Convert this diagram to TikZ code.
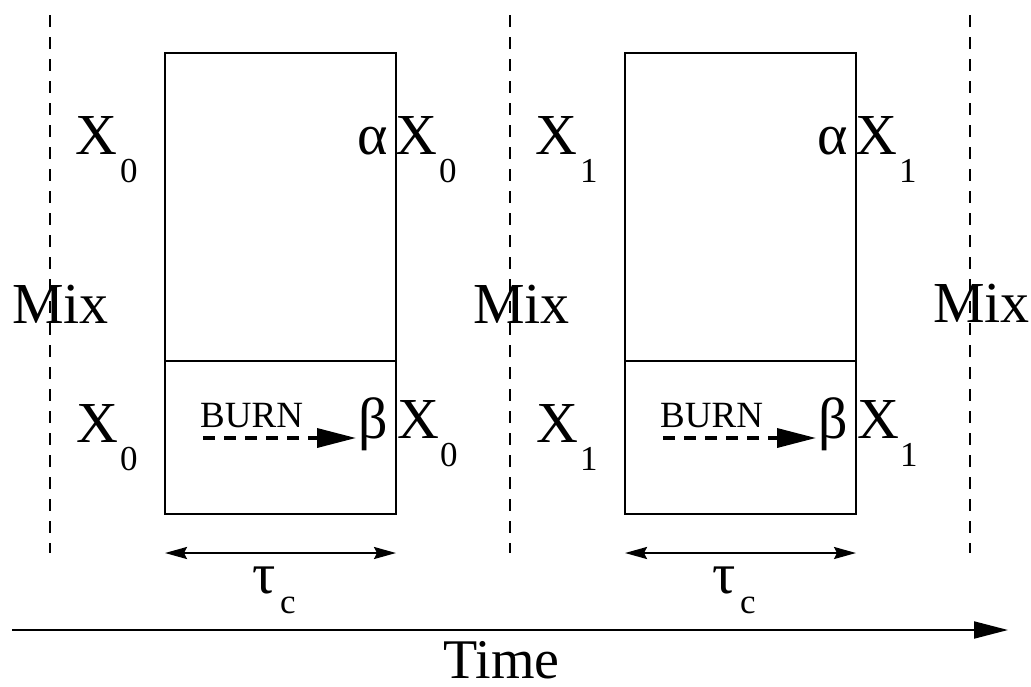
\documentclass[tikz,border=0pt]{standalone}
\usepackage{fontspec}
\setmainfont{Liberation Serif}
\newfontfamily\tms{Liberation Serif}
\usetikzlibrary{arrows.meta}
\begin{document}
\begin{tikzpicture}[x=1pt,y=-1pt,
  lbl/.style={inner sep=0pt, anchor=base west, font=\tms\fontsize{58}{60}\selectfont},
  sublbl/.style={inner sep=0pt, anchor=base west, font=\tms\fontsize{35}{36}\selectfont},
  burnlbl/.style={inner sep=0pt, anchor=base west, font=\tms\fontsize{37}{38}\selectfont},
  boxst/.style={draw, line width=1.6pt, outer sep=0pt, inner sep=0pt, anchor=north west, minimum width=231pt},
  mixline/.style={line width=1.5pt, dash pattern=on 12pt off 10pt},
  burnarrow/.style={line width=3.5pt, dash pattern=on 12pt off 9pt, -{Triangle[length=39pt,width=19pt]}},
  tauarrow/.style={line width=2.2pt, {Stealth[length=22pt,width=12pt,inset=3pt]}-{Stealth[length=22pt,width=12pt,inset=3pt]}},
  timearrow/.style={line width=2pt, -{Triangle[length=34pt,width=17pt]}}]
\useasboundingbox (0,0) rectangle (1031,686);

% mixing labels
\node[lbl] (mix0) at (12,323) {Mix};
\node[lbl] (mix1) at (473,323) {Mix};
\node[lbl] (mix2) at (933,322) {Mix};

% dashed mixing lines
\foreach \m/\xx in {0/50,1/510,2/970}{
  \coordinate (mt\m) at (\xx,15);
  \coordinate (mb\m) at (\xx,553);
  \draw[mixline] (mt\m) -- (mb\m);
}

\foreach \k/\dx in {0/0,1/460}{
  \begin{scope}[xshift=\dx pt]
    \node[boxst, minimum height=308pt] (top\k) at (165,53) {};
    \node[boxst, minimum height=153pt] (bot\k) at (165,361) {};
    % top labels
    \node[lbl] (xin\k) at (75,154) {X};
    \node[sublbl] (xinsub\k) at (120,182) {\k};
    \node[lbl] (alpha\k) at (357,154) {α};
    \node[lbl] (xal\k) at (395,154) {X};
    \node[sublbl] (xalsub\k) at (439,182) {\k};
    % bottom labels
    \node[lbl] (xbin\k) at (76,442) {X};
    \node[sublbl] (xbinsub\k) at (120,470) {\k};
    \node[lbl] (beta\k) at (358,438) {β};
    \node[lbl] (xbe\k) at (397,438) {X};
    \node[sublbl] (xbesub\k) at (440,466) {\k};
    % burn arrow
    \node[burnlbl] (burn\k) at (200,427) {BURN};
    \coordinate (bs\k) at (203,438);
    \coordinate (be\k) at (356,438);
    \draw[burnarrow] (bs\k) -- (be\k);
    % tau arrow
    \coordinate (ts\k) at (165,553);
    \coordinate (te\k) at (396,553);
    \draw[tauarrow] (ts\k) -- (te\k);
    \node[lbl] (tau\k) at (252,593) {τ};
    \node[sublbl] (tausub\k) at (280,613) {c};
  \end{scope}
}

% time axis
\coordinate (tstart) at (12,630);
\coordinate (tend) at (1008,630);
\draw[timearrow] (tstart) -- (tend);
\node[inner sep=0pt, anchor=base west, font=\tms\fontsize{56}{58}\selectfont] (time) at (443,678) {Time};
\end{tikzpicture}
\end{document}
